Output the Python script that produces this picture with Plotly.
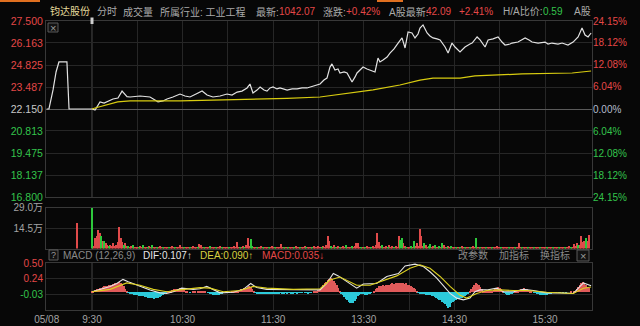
import plotly.graph_objects as go

# ---------------- data ----------------
stock_name = "钧达股份"
prev_close = 22.15

price_ticks = [16.8, 18.137, 19.475, 20.813, 22.15, 23.487, 24.825, 26.163, 27.5]
price_tick_text = ["16.800", "18.137", "19.475", "20.813", "22.150", "23.487", "24.825", "26.163", "27.500"]
pct_ticks = [-24.15, -18.12, -12.08, -6.04, 0.0, 6.04, 12.08, 18.12, 24.15]
pct_tick_text = ["24.15%", "18.12%", "12.08%", "6.04%", "0.00%", "6.04%", "12.08%", "18.12%", "24.15%"]
vol_ticks = [14.5, 29.0]
vol_tick_text = ["14.5万", "29.0万"]
macd_ticks = [0.50, 0.24, -0.03]
macd_tick_text = ["0.50", "0.24", "-0.03"]
time_ticks = [0, 30, 90, 150, 210, 270, 330]
time_labels = ["05/08", "9:30", "10:30", "11:30", "13:30", "14:30", "15:30"]
grid_minutes = [0, 30, 60, 90, 120, 150, 180, 210, 240, 270, 300, 330]

# minutes from 09:00 (lunch break removed); price keypoints
price_min = [0, 1.5, 4.2, 6.2, 8.1, 13.4, 14.8, 29.3,
             30.0, 32.0, 35.3, 38.0, 40.0, 43.9, 47.2, 49.9, 53.2, 55.2, 61.8, 68.4,
             71.7, 73.7, 77.0, 79.7, 83.6, 88.3, 91.6, 94.9, 98.9, 102.9, 106.2, 110.1,
             114.8, 119.4, 122.7, 126.1, 129.3, 132.7, 134.6, 136.6, 139.3, 141.3, 143.9,
             145.9, 147.9, 149.9, 152.5, 154.5, 159.2, 162.5, 165.8, 169.1, 172.4, 177.0,
             181.0, 183.6, 185.6, 187.6, 188.9, 190.9, 192.9, 194.2, 196.9, 198.9, 200.9,
             202.2, 204.2, 205.5, 207.5, 209.5, 212.1, 214.1, 217.4, 219.4, 220.7, 222.7,
             225.4, 227.3, 230.0, 232.7, 235.3, 237.3, 239.3, 241.9, 243.9, 245.9, 247.2,
             249.2, 251.9, 253.8, 255.8, 258.5, 260.5, 263.8, 265.8, 268.4, 270.4, 273.7,
             277.0, 280.3, 281.7, 285.0, 287.0, 290.3, 292.3, 295.6, 296.9, 298.9, 301.5,
             303.5, 306.8, 308.1, 312.1, 314.8, 316.8, 319.4, 321.4, 325.4, 330.0, 332.0,
             334.6, 338.6, 341.3, 345.2, 348.6, 351.9, 354.5, 356.5, 358.5, 360.5]
price_val = [22.15, 22.15, 23.31, 24.40, 25.01, 25.01, 22.15, 22.15,
             22.15, 22.09, 22.58, 22.51, 22.58, 22.76, 22.82, 23.24, 22.90, 22.88, 22.94, 22.88,
             22.70, 22.58, 22.64, 22.76, 22.88, 23.06, 22.94, 22.88, 23.06, 23.24, 23.00, 22.88,
             22.94, 23.06, 23.00, 23.18, 23.24, 23.43, 23.67, 23.12, 23.30, 23.49, 23.30,
             23.24, 23.43, 23.49, 23.37, 23.43, 23.30, 23.37, 23.37, 23.43, 23.43, 23.55,
             23.67, 23.91, 24.03, 24.70, 24.89, 24.52, 24.58, 24.34, 24.40, 24.34, 24.03,
             23.79, 24.10, 24.34, 24.52, 24.70, 24.58, 24.52, 24.40, 25.25, 25.01, 25.13,
             25.31, 25.55, 25.80, 26.16, 26.47, 25.86, 26.83, 26.77, 26.47, 26.71, 27.07,
             27.26, 26.77, 26.59, 26.47, 26.41, 26.35, 25.92, 25.55, 26.16, 25.92, 25.62,
             25.92, 26.10, 26.16, 26.53, 26.35, 25.92, 26.35, 26.41, 26.47, 26.53, 26.22,
             26.04, 26.10, 26.16, 26.22, 26.35, 26.47, 26.35, 26.22, 26.16, 26.22, 26.10,
             26.16, 26.10, 26.16, 26.04, 26.22, 26.53, 27.07, 26.65, 26.53, 26.77]

avg_min = [30.0, 32.0, 47.0, 55.2, 88.3, 121.4, 136.6, 159.2, 181.0, 198.9, 216.1,
           233.9, 247.2, 255.8, 273.7, 283.6, 314.8, 348.0, 354.5, 360.5]
avg_val = [22.15, 22.21, 22.58, 22.64, 22.65, 22.70, 22.74, 22.80, 22.88, 23.12, 23.31,
           23.61, 23.91, 24.03, 24.03, 24.16, 24.28, 24.34, 24.40, 24.46]

# volume in 万 (negative = down minute, shown green)
premarket_vol_min = [20]
premarket_vol = [18.2]
vol_start_min = 30
volume = [
    -29.0, 2.0, 8.1, 9.5, 13.1, 11.2, -9.5, 6.0, -6.0, 4.0,
    3.0, -2.0, 3.0, 2.0, 4.0, 2.0, 3.0, 5.0, 15.9, 8.0,
    5.0, -3.0, 4.0, 2.0, -2.0, 1.5, 2.0, -3.0, 1.0, 1.5,
    1.0, -1.5, 2.0, 1.0, -2.5, 1.0, 1.5, -1.0, 2.0, 1.0,
    -3.0, 1.0, 1.5, -1.0, 1.0, 2.0, 1.0, -1.5, 1.0, 1.0,
    1.5, -1.0, 1.0, 2.0, 1.0, -1.0, 1.5, 1.0, 2.5, 1.0,
    1.0, -1.0, 1.5, 1.0, 1.0, -1.5, 1.0, 2.0, 1.0, 1.0,
    -1.0, 3.8, 2.5, 1.0, -1.0, 1.5, 1.0, 1.0, -2.0, 1.0,
    1.0, 1.5, -1.0, 1.0, 1.0, 2.0, -1.0, 1.0, 1.0, 1.5,
    1.0, -1.0, 1.5, 1.0, 2.0, 1.0, 4.8, 1.5, -1.0, 1.0,
    2.0, -1.5, 3.0, 7.6, 2.0, -7.2, -2.0, 1.5, 1.0, -1.0,
    1.5, 1.0, 2.0, -1.0, 1.0, 1.5, 1.0, -1.0, 1.0, 2.0,
    1.0, -1.0, 1.5, 1.0, 1.0, 3.8, 1.0, -1.5, 1.0, 1.0,
    -1.0, 1.5, 1.0, 1.0, -1.0, 2.0, 1.0, 1.0, -1.5, 1.0,
    1.0, 2.0, -1.0, 1.0, 1.5, 1.0, -1.0, 2.0, 1.0, 1.5,
    2.0, 1.0, -1.5, 2.0, 1.5, 3.0, 9.0, 5.5, -2.0, 1.5,
    3.0, -1.0, 1.0, 2.0, -1.5, 1.0, 2.0, 1.0, -2.5, 1.0,
    1.5, 1.0, -2.0, 1.0, 2.0, 4.0, 4.5, 1.0, -1.0, 1.5,
    1.0, -1.5, 2.0, 1.0, 1.5, -1.0, 2.0, 1.0, 2.5, 11.2,
    5.0, 2.0, -3.0, 1.5, 1.0, 2.0, -1.5, 3.0, 1.0, 2.0,
    -1.0, 2.0, 1.5, 9.5, -6.5, -7.9, 4.5, 2.0, -1.5, 1.0,
    1.5, -2.0, 1.0, -5.5, 2.0, 4.0, 2.0, 14.3, 9.5, 2.0,
    -4.5, 3.0, 1.0, -2.0, -3.5, 1.5, 2.0, -3.0, 1.0, 1.5,
    -2.0, 1.0, -4.2, 3.0, 1.0, -1.5, 2.0, 1.0, -2.0, 1.0,
    1.0, -1.5, 1.0, 1.0, -1.0, 2.0, 1.0, -1.0, 1.5, 1.0,
    -1.0, 1.0, 2.0, 1.5, -7.6, 1.5, 1.0, -1.0, 1.0, 1.5,
    1.0, -1.0, 1.0, 1.0, 1.5, -1.0, 1.0, 1.0, 2.0, 1.0,
    1.0, -1.0, 1.0, 1.5, 1.0, 1.0, -1.5, 1.0, 1.0, 1.0,
    -1.0, 1.5, 1.0, 3.9, 1.0, -1.0, 1.0, 1.0, 1.5, -1.0,
    1.0, 1.0, 1.0, -1.0, 1.5, 1.0, 1.0, -1.0, 1.0, 1.0,
    1.0, -1.0, 1.5, 1.0, 1.0, -1.0, 1.0, 1.5, 1.0, -1.0,
    1.0, 1.0, 1.5, -1.0, 1.0, 1.0, 2.0, -1.0, 1.5, 3.5,
    2.0, 4.0, -2.5, 3.0, 9.5, 5.0, 6.0, -7.9, 6.0, 10.0,
]

# MACD histogram per minute from 9:30
macd_hist = [
    0.01, 0.02, 0.04, 0.05, 0.06, 0.07, 0.08, 0.09, 0.10, 0.10,
    0.11, 0.12, 0.12, 0.13, 0.14, 0.15, 0.16, 0.16, 0.17, 0.16,
    0.14, 0.10, 0.05, 0.01, -0.01, -0.02, -0.03, -0.03, -0.04, -0.05,
    -0.05, -0.06, -0.06, -0.07, -0.07, -0.08, -0.08, -0.09, -0.09, -0.10,
    -0.10, -0.11, -0.10, -0.10, -0.09, -0.08, -0.06, -0.04, -0.03, -0.01,
    0.01, 0.02, 0.03, 0.04, 0.05, 0.05, 0.06, 0.06, 0.07, 0.07,
    0.06, 0.05, 0.03, 0.01, 0.0, -0.01, 0.0, 0.01, 0.01, 0.0,
    0.01, 0.02, 0.03, 0.03, 0.02, 0.01, 0.0, -0.01, -0.02, -0.03,
    -0.04, -0.05, -0.05, -0.05, -0.04, -0.03, -0.02, -0.01, 0.0, 0.01,
    0.0, -0.01, 0.0, 0.01, 0.01, 0.02, 0.02, 0.03, 0.04, 0.05,
    0.06, 0.07, 0.08, 0.09, 0.10, 0.09, 0.06, 0.02, -0.01, -0.02,
    -0.03, -0.03, -0.03, -0.02, -0.03, -0.03, -0.02, -0.02, -0.03, -0.02,
    -0.02, -0.03, -0.03, -0.02, -0.02, -0.01, -0.02, -0.02, -0.01, -0.02,
    -0.01, -0.01, -0.02, -0.02, -0.01, -0.01, -0.02, -0.01, -0.01, -0.01,
    0.0, -0.01, -0.01, -0.02, -0.01, -0.01, 0.0, 0.01, 0.02, 0.03,
    0.04, 0.06, 0.09, 0.12, 0.15, 0.18, 0.21, 0.23, 0.24, 0.23,
    0.20, 0.16, 0.12, 0.07, 0.02, -0.02, -0.05, -0.08, -0.11, -0.14,
    -0.16, -0.18, -0.19, -0.18, -0.15, -0.11, -0.07, -0.04, -0.02, -0.02,
    -0.03, -0.04, -0.04, -0.03, -0.02, -0.01, 0.0, 0.02, 0.05, 0.08,
    0.10, 0.10, 0.11, 0.12, 0.11, 0.12, 0.13, 0.13, 0.14, 0.15,
    0.14, 0.15, 0.16, 0.15, 0.16, 0.16, 0.15, 0.14, 0.15, 0.13,
    0.12, 0.10, 0.09, 0.07, 0.05, 0.02, -0.01, -0.02, -0.02, -0.03,
    -0.03, -0.04, -0.04, -0.05, -0.05, -0.06, -0.07, -0.08, -0.10, -0.11,
    -0.13, -0.14, -0.16, -0.18, -0.20, -0.24, -0.27, -0.25, -0.19, -0.16,
    -0.15, -0.13, -0.12, -0.11, -0.10, -0.09, -0.08, -0.06, -0.05, -0.02,
    0.02, 0.05, 0.09, 0.12, 0.15, 0.14, 0.12, 0.09, 0.05, 0.02,
    0.01, 0.02, 0.03, 0.02, 0.01, 0.02, 0.04, 0.06, 0.08, 0.09,
    0.07, 0.05, 0.02, -0.01, -0.03, -0.04, -0.04, -0.03, -0.02, -0.01,
    0.01, 0.02, 0.03, 0.04, 0.05, 0.06, 0.07, 0.06, 0.05, 0.04,
    0.02, 0.01, 0.0, -0.01, -0.01, -0.02, -0.03, -0.04, -0.04, -0.05,
    -0.04, -0.04, -0.03, -0.03, -0.02, -0.01, -0.01, -0.01, 0.0, -0.01,
    -0.01, 0.0, -0.01, 0.0, -0.01, 0.0, 0.0, 0.01, 0.0, 0.01,
    0.02, 0.05, 0.09, 0.13, 0.16, 0.18, 0.15, 0.12, 0.08, 0.07,
]

dif_min = [30, 42, 46.4, 50.5, 54, 61.8, 68.4, 75, 79.5, 83.8, 89.4, 97, 101.5, 106, 110.3,
           114.8, 123.6, 130.2, 135.1, 139.1, 145.7, 156.7, 167.7, 181, 185.4, 189.8, 193.1,
           198.7, 203, 205.3, 209.7, 218.5, 225.2, 232.9, 237.3, 243.9, 249.4, 253.8, 258.3,
           262.7, 267.1, 271.5, 275.9, 280.3, 283.6, 286.9, 291.4, 298, 302.4, 309, 315.6,
           322.3, 331.1, 339.9, 348.7, 355.4, 360.5]
dif_val = [0.01, 0.10, 0.15, 0.22, 0.18, 0.10, 0.04, -0.01, -0.02, 0.01, 0.07, 0.05, 0.06, 0.10, 0.04,
           -0.01, 0.0, 0.05, 0.15, 0.08, 0.05, 0.05, 0.04, 0.04, 0.15, 0.32, 0.28,
           0.18, 0.10, 0.07, 0.14, 0.15, 0.27, 0.32, 0.45, 0.48, 0.44, 0.35, 0.24,
           0.10, -0.02, -0.10, -0.13, -0.10, 0.01, 0.04, 0.04, 0.07, 0.01, 0.01, 0.05,
           0.03, -0.01, -0.01, -0.02, 0.16, 0.11]
dea_min = [30, 42, 53, 61.8, 70.6, 79.5, 88.3, 101.5, 108.1, 117, 128, 136.8, 145.7, 163.3,
           181, 187.6, 194.2, 200.9, 205.3, 214.1, 220.7, 231.8, 240.6, 247.2, 253.8, 260.5,
           267.1, 273.7, 278.1, 284.8, 291.4, 300.2, 309, 317.9, 331.1, 348.7, 355.4, 360.5]
dea_val = [0.01, 0.05, 0.16, 0.12, 0.05, 0.01, 0.04, 0.08, 0.07, 0.01, 0.03, 0.10, 0.07, 0.05,
           0.06, 0.21, 0.26, 0.18, 0.12, 0.12, 0.18, 0.28, 0.41, 0.47, 0.41, 0.27,
           0.10, -0.05, -0.10, -0.02, 0.03, 0.04, 0.03, 0.03, 0.0, -0.02, 0.07, 0.09]

# ---------------- style ----------------
RED = "#e44848"
GREEN = "#34c44c"
GREY = "#a4a4a4"
DGREY = "#8a8a8a"
BG = "#070707"
GRID = "#262626"
FRAME = "#383838"
FONT = "Liberation Sans, Arial, Noto Sans CJK SC, sans-serif"

W, H = 640, 326
ML, MR, MT, MB = 46, 48, 21, 16
PW, PH = W - ML - MR, H - MT - MB


def px_x(x):
    return (x - ML) / PW


def px_y(y):
    return (H - MB - y) / PH


def span(text, color):
    return f'<span style="color:{color}">{text}</span>'


price_dom = [px_y(197), 1.0]
vol_dom = [px_y(248.5), px_y(207.5)]
macd_dom = [0.0, px_y(263)]
xrange_ = [-0.46, 361.1]

price_lbl = [span(t, RED if v > prev_close + 1e-9 else (GREEN if v < prev_close - 1e-9 else "#c8c8c8"))
             for v, t in zip(price_ticks, price_tick_text)]
pct_lbl = [span(t, RED if v > 0 else (GREEN if v < 0 else "#b4bccc"))
           for v, t in zip(pct_ticks, pct_tick_text)]
macd_lbl = [span(t, RED if v > 0 else GREEN) for v, t in zip(macd_ticks, macd_tick_text)]

fig = go.Figure()

# price
fig.add_trace(go.Scatter(x=price_min, y=price_val, mode="lines",
                         line=dict(color="#e2e2e2", width=1.2), xaxis="x", yaxis="y"))
fig.add_trace(go.Scatter(x=avg_min, y=avg_val, mode="lines",
                         line=dict(color="#d8cc10", width=1.2), xaxis="x", yaxis="y"))
fig.add_trace(go.Scatter(x=[0], y=[0], mode="markers", marker=dict(opacity=0),
                         xaxis="x", yaxis="y2"))

# volume
vol_x = list(range(vol_start_min, vol_start_min + len(volume)))
up_x = premarket_vol_min + [m for m, v in zip(vol_x, volume) if v > 0]
up_y = premarket_vol + [v for v in volume if v > 0]
dn_x = [m for m, v in zip(vol_x, volume) if v < 0]
dn_y = [-v for v in volume if v < 0]
fig.add_trace(go.Bar(x=up_x, y=up_y, width=0.7, marker=dict(color="#e04a4a", line_width=0),
                     xaxis="x2", yaxis="y3"))
fig.add_trace(go.Bar(x=dn_x, y=dn_y, width=0.7, marker=dict(color="#2ec83c", line_width=0),
                     xaxis="x2", yaxis="y3"))

# macd
h_x = list(range(vol_start_min, vol_start_min + len(macd_hist)))
fig.add_trace(go.Bar(x=[m for m, v in zip(h_x, macd_hist) if v >= 0],
                     y=[v for v in macd_hist if v >= 0], width=0.7,
                     marker=dict(color="#e05a5a", line_width=0), xaxis="x3", yaxis="y4"))
fig.add_trace(go.Bar(x=[m for m, v in zip(h_x, macd_hist) if v < 0],
                     y=[v for v in macd_hist if v < 0], width=0.7,
                     marker=dict(color="#2ccada", line_width=0), xaxis="x3", yaxis="y4"))
fig.add_trace(go.Scatter(x=dif_min, y=dif_val, mode="lines",
                         line=dict(color="#e6e6e6", width=1.1), xaxis="x3", yaxis="y4"))
fig.add_trace(go.Scatter(x=dea_min, y=dea_val, mode="lines",
                         line=dict(color="#dcd020", width=1.1), xaxis="x3", yaxis="y4"))

xcommon = dict(range=xrange_, tickvals=grid_minutes, showgrid=True, gridcolor=GRID, gridwidth=1,
               showline=True, linecolor=FRAME, mirror=True, zeroline=False, ticks="",
               showticklabels=False, fixedrange=True)
tick_font = dict(family=FONT, size=10.5, color=GREY)

bottom_tickvals = grid_minutes
bottom_ticktext = [time_labels[time_ticks.index(m)] if m in time_ticks else "" for m in grid_minutes]

fig.update_layout(
    width=W, height=H,
    margin=dict(l=ML, r=MR, t=MT, b=MB, autoexpand=False),
    paper_bgcolor=BG, plot_bgcolor=BG,
    showlegend=False, hovermode=False, barmode="overlay", bargap=0,
    font=dict(family=FONT, size=10, color=GREY),
    xaxis=dict(**xcommon, anchor="y", domain=[0, 1]),
    xaxis2=dict(**xcommon, anchor="y3", domain=[0, 1], matches="x"),
    xaxis3=dict(**{k: v for k, v in xcommon.items() if k not in ("showticklabels", "tickvals")},
                anchor="y4", domain=[0, 1], matches="x",
                tickvals=bottom_tickvals, ticktext=bottom_ticktext, showticklabels=True,
                tickfont=dict(family=FONT, size=10, color=GREY)),
    yaxis=dict(domain=price_dom, anchor="x", range=[16.8, 27.5], tickvals=price_ticks,
               ticktext=price_lbl, showgrid=True, gridcolor=GRID, showline=True,
               linecolor=FRAME, mirror=True, zeroline=False, ticks="", tickfont=tick_font,
               automargin=False, fixedrange=True),
    yaxis2=dict(overlaying="y", anchor="x", side="right", range=[-24.15, 24.15],
                tickvals=pct_ticks, ticktext=pct_lbl, showgrid=False, zeroline=True,
                zerolinecolor="#5a5a5a", zerolinewidth=1, showline=False, ticks="",
                tickfont=dict(family=FONT, size=10, color=GREY), automargin=False,
                fixedrange=True),
    yaxis3=dict(domain=vol_dom, anchor="x2", range=[0, 29.0], tickvals=vol_ticks,
                ticktext=vol_tick_text, showgrid=True, gridcolor=GRID, showline=True,
                linecolor=FRAME, mirror=True, zeroline=False, ticks="",
                tickfont=dict(family=FONT, size=10, color=GREY), automargin=False,
                fixedrange=True),
    yaxis4=dict(domain=macd_dom, anchor="x3", range=[-0.303, 0.50], tickvals=macd_ticks,
                ticktext=macd_lbl, showgrid=True, gridcolor=GRID, showline=True,
                linecolor=FRAME, mirror=True, zeroline=False, ticks="",
                tickfont=dict(family=FONT, size=10, color=GREY), automargin=False,
                fixedrange=True),
)

shapes = []
# brighter 9:30 line in price and macd panels
shapes.append(dict(type="line", xref="x", yref="paper", x0=30, x1=30, y0=price_dom[0], y1=1,
                   line=dict(color="#4c4c4c", width=1), layer="below"))
shapes.append(dict(type="line", xref="x", yref="paper", x0=30, x1=30, y0=0, y1=macd_dom[1],
                   line=dict(color="#444444", width=1), layer="below"))
# top orange tabs
for a, b in [(0, 40), (377, 403)]:
    shapes.append(dict(type="rect", xref="paper", yref="paper", x0=px_x(a), x1=px_x(b),
                       y0=px_y(2), y1=px_y(0), fillcolor="#e07020", line_width=0))
# 9:30 pin
shapes.append(dict(type="rect", xref="paper", yref="paper", x0=px_x(90.5), x1=px_x(93.5),
                   y0=px_y(24), y1=px_y(17.5), fillcolor="#cfcfcf", line_width=0))
# small boxes
for (x0, y0, x1, y1) in [(48, 23, 58, 32), (49, 250, 58, 260), (577, 250, 589, 261)]:
    shapes.append(dict(type="rect", xref="paper", yref="paper", x0=px_x(x0), x1=px_x(x1),
                       y0=px_y(y1), y1=px_y(y0), fillcolor="#121212",
                       line=dict(color="#5a5a5a", width=1)))
fig.update_layout(shapes=shapes)

ann = []


def text_at(x, y, t, color, size=10, anchor="left"):
    ann.append(dict(xref="paper", yref="paper", x=px_x(x), y=px_y(y), text=t, showarrow=False,
                    xanchor=anchor, yanchor="middle", borderpad=0,
                    font=dict(family=FONT, size=size, color=color)))


HG = "#aaaaaa"
header = [(49, stock_name, "#e6dc9c"), (96, "分时", HG), (122, "成交量", HG),
          (159, "所属行业: 工业工程", HG), (255, "最新:", HG), (278, "1042.07", RED),
          (322, "涨跌:", HG), (345, "+0.42%", RED), (388, "A股最新:", HG), (425, "42.09", RED),
          (458, "+2.41%", RED), (502, "H/A比价:", HG), (542, "0.59", GREEN), (573, "A股", HG)]
for x, t, c in header:
    text_at(x, 11.5, t, c)

macd_head = [(62, "MACD (12,26,9)", DGREY), (142, "DIF:0.107↑", "#e6e6e6"),
             (199, "DEA:0.090↑", "#d8d040"), (261, "MACD:0.035↓", RED),
             (457, "改参数", DGREY), (498, "加指标", DGREY), (539, "换指标", DGREY)]
for x, t, c in macd_head:
    text_at(x, 255, t, c)

text_at(53, 27.5, "×", "#9a9a9a", size=11, anchor="center")
text_at(53.5, 255, "?", "#9a9a9a", size=9, anchor="center")
text_at(583, 255.5, "×", "#9a9a9a", size=11, anchor="center")

fig.update_layout(annotations=ann)

fig.write_html("out.html")
